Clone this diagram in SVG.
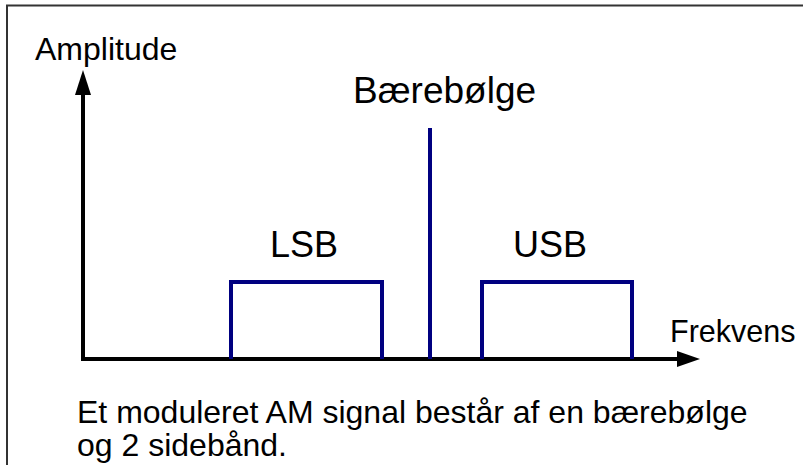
<svg xmlns="http://www.w3.org/2000/svg" width="803" height="465" viewBox="0 0 803 465">
  <style>
    .t { font-family: "Liberation Sans", Arial, sans-serif; fill: #000; }
    .axis { stroke: #000; stroke-width: 4; fill: none; }
    .band { stroke: #000080; stroke-width: 4; fill: none; stroke-linejoin: miter; }
    .frame { stroke: #333; stroke-width: 2; fill: none; }
  </style>
  <rect x="0" y="0" width="803" height="465" fill="#fff"/>
  <g id="frame">
    <path class="frame" d="M7 465 V5.5 H803"/>
  </g>
  <g id="connectors">
    <line class="axis" x1="83" y1="359" x2="83" y2="92"/>
    <polygon points="83,70 75,95 91,95" fill="#000"/>
    <line class="axis" x1="81" y1="359" x2="680" y2="359"/>
    <polygon points="700,359 677,351 677,367" fill="#000"/>
  </g>
  <g id="lsb">
    <path class="band" d="M231 359 V282 H382 V359"/>
    <text class="t" x="270" y="257" font-size="36">LSB</text>
  </g>
  <g id="carrier">
    <line class="band" x1="430" y1="128" x2="430" y2="359"/>
    <text class="t" x="353" y="103" font-size="37">Bærebølge</text>
  </g>
  <g id="usb">
    <path class="band" d="M482 359 V282 H632 V359"/>
    <text class="t" x="513" y="257" font-size="36">USB</text>
  </g>
  <g id="labels">
    <text class="t" x="35" y="60" font-size="32">Amplitude</text>
    <text class="t" x="670" y="342" font-size="30.5">Frekvens</text>
    <text class="t" x="77" y="423" font-size="32">Et moduleret AM signal består af en bærebølge</text>
    <text class="t" x="77" y="456" font-size="32">og 2 sidebånd.</text>
  </g>
</svg>
